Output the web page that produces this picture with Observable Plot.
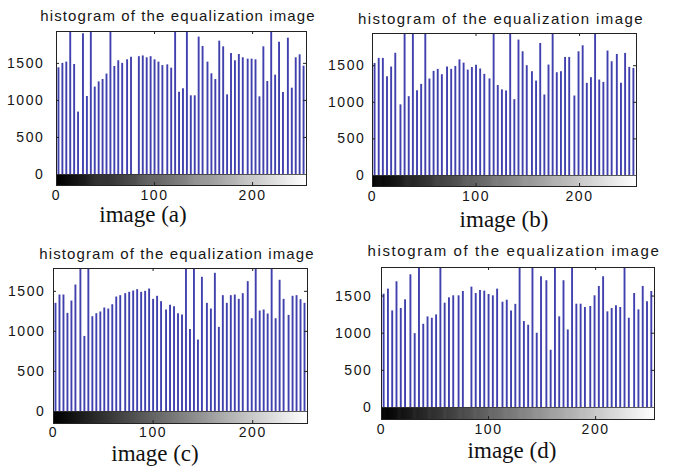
<!DOCTYPE html>
<html><head><meta charset="utf-8">
<script src="https://cdn.jsdelivr.net/npm/d3@7"></script>
<script src="https://cdn.jsdelivr.net/npm/@observablehq/plot@0.6"></script>
<style>
html,body{margin:0;padding:0;background:#fff;}
#root{position:relative;width:678px;height:468px;overflow:hidden;background:#fff;}
.title{position:absolute;font-family:"Liberation Sans",Arial,sans-serif;font-size:15px;color:#161616;white-space:nowrap;transform:translate(-50%,-50%);line-height:1;}
.cap{position:absolute;font-family:"Liberation Serif","Times New Roman",serif;font-size:23px;color:#111;white-space:nowrap;transform:translate(-50%,-50%);line-height:0.85;}
.panel{position:absolute;}
</style></head><body><div id="root"></div>
<script>
// gray levels at which the equalized histogram has stems (visible ones)
const grayLevels = [2,6,10,14,18,22,27,31,35,39,43,47,51,55,59,63,67,72,76,80,84,88,92,96,100,104,108,113,117,121,125,129,133,137,141,145,149,154,158,162,166,170,174,178,182,186,190,195,199,203,207,211,215,219,223,227,231,236,240,244,248,252];

// pixel counts (2600 = stem runs off the top of the axes)
const countsA = [1440,1500,1517,2600,1485,842,1900,1053,2600,1180,1250,1282,1355,2600,1458,1535,1500,1548,1584,0,1590,1600,1575,1590,1548,1517,1470,1480,1435,2600,1111,1156,2600,1062,1062,1854,1728,1517,1359,1282,1800,1723,1075,1633,1535,1620,1575,1557,1557,1548,1048,1723,1255,2600,1341,1786,1107,1840,1165,1575,1615,1462];
const countsB = [1530,1600,1600,1350,1482,1670,965,2600,1077,2600,1159,1245,2600,1318,1423,1450,1377,1482,1450,1490,1580,1535,1440,1475,1505,1455,1382,1320,2600,1230,1170,1155,2600,1036,1850,1690,1500,1418,1290,1804,1100,1509,2600,1404,1418,1613,1613,1086,1690,1772,1259,1336,2600,1304,1272,1700,1554,1654,1259,1668,1477,1463];
const countsC = [1350,1454,1454,1225,1379,1579,2600,937,2600,1183,1221,1242,1292,1279,1333,1429,1446,1471,1488,1504,1521,1488,1500,1529,1400,1438,1371,1267,1325,1308,1220,1204,2600,1025,2600,892,1675,1350,1279,1725,1050,1446,1350,1446,1454,1400,1471,1621,1158,2600,1254,1267,1217,2600,1158,1638,1400,1200,1438,1446,1396,1350];
const countsD = [1525,1593,1300,1692,1332,1449,1786,994,2600,1120,1219,1201,1246,2600,1404,1476,1503,1503,1561,0,1620,1534,1575,1566,1521,1503,1593,1417,1444,1300,1388,2600,1157,1107,2600,999,1760,1706,770,2600,1220,1706,1044,2600,1390,1390,1346,1359,1503,1629,1760,1287,1332,1368,1346,2600,1201,1534,1314,1629,1422,1561];

const titleText = "histogram of the equalization image";
const captions = ["image (a)", "image (b)", "image (c)", "image (d)"];
const yTicks = [0, 500, 1000, 1500];
const xTicks = [0, 100, 200];
const yMaxes = [1930, 1940, 1785, 1884];

const ramp = d3.range(256); // colorbar gray ramp

const layout = [
  {counts: countsA, fl:56,  ft:31,  fw:250, ah:143, cb:11, tx:178, ty:15,  tls:1.1, cx:143, cy:215, xpad:5, ypad:12},
  {counts: countsB, fl:372, ft:33,  fw:264, ah:142, cb:11, tx:501, ty:18,  tls:1.4, cx:504, cy:220, xpad:5, ypad:7},
  {counts: countsC, fl:53,  ft:268, fw:254, ah:143, cb:12, tx:177, ty:253, tls:1.1, cx:155, cy:454, xpad:4, ypad:8},
  {counts: countsD, fl:381, ft:267, fw:273, ah:140, cb:12, tx:514, ty:250, tls:1.6, cx:512, cy:451, xpad:5, ypad:9}
];

const root = document.getElementById("root");
const mL = 52, mT = 4, mR = 6, mB = 24;
const stemColor = "#4040ae";

layout.forEach((p, k) => {
  const ymax = yMaxes[k];
  const yMin = -p.cb / p.ah * ymax;
  const rows = grayLevels.map((g, i) => ({g, n: p.counts[i]}));
  const tx = 3 * 255 / p.fw;           // 3px inner tick, in x units
  const ty = 3 * ymax / p.ah;          // 3px inner tick, in y units
  const svg = Plot.plot({
    width: mL + p.fw + mR,
    height: mT + p.ah + p.cb + mB,
    marginLeft: mL, marginTop: mT, marginRight: mR, marginBottom: mB,
    x: {domain: [0, 255]},
    y: {domain: [yMin, ymax]},
    color: {type: "identity"},
    style: {fontFamily: "Liberation Sans, Arial, sans-serif", fontSize: "14px", color: "#151515", background: "transparent", letterSpacing: "1.6px", overflow: "visible"},
    marks: [
      Plot.rect(ramp, {x1: d => d, x2: d => d + 1.6, y1: yMin, y2: 0, fill: d => `rgb(${d},${d},${d})`, inset: 0}),
      Plot.ruleX(rows, {x: "g", y1: 0, y2: "n", stroke: stemColor, strokeWidth: 1.9, clip: true}),
      Plot.ruleY([0], {stroke: "#333", strokeWidth: 0.8}),
      Plot.ruleY(yTicks.filter(t => t > 0), {y: d => d, x1: 0, x2: tx, stroke: "#222"}),
      Plot.ruleY(yTicks.filter(t => t > 0), {y: d => d, x1: 255 - tx, x2: 255, stroke: "#222"}),
      Plot.ruleX(xTicks.filter(t => t > 0), {x: d => d, y1: ymax - ty, y2: ymax, stroke: "#222"}),
      Plot.ruleX(xTicks.filter(t => t > 0), {x: d => d, y1: yMin, y2: yMin + ty, stroke: "#222"}),
      Plot.frame({stroke: "#222", strokeWidth: 1}),
      Plot.axisY(yTicks, {tickSize: 0, tickPadding: p.ypad, label: null, tickFormat: d => String(d)}),
      Plot.axisX(xTicks, {tickSize: 0, tickPadding: p.xpad, label: null, tickFormat: d => String(d)})
    ]
  });
  svg.classList.add("panel");
  svg.style.left = (p.fl - mL) + "px";
  svg.style.top = (p.ft - mT) + "px";
  root.appendChild(svg);

  const t = document.createElement("div");
  t.className = "title";
  t.textContent = titleText;
  t.style.left = p.tx + "px";
  t.style.top = p.ty + "px";
  t.style.letterSpacing = p.tls + "px";
  root.appendChild(t);

  const c = document.createElement("div");
  c.className = "cap";
  c.textContent = captions[k];
  c.style.left = p.cx + "px";
  c.style.top = p.cy + "px";
  root.appendChild(c);
});
</script>
</body></html>
